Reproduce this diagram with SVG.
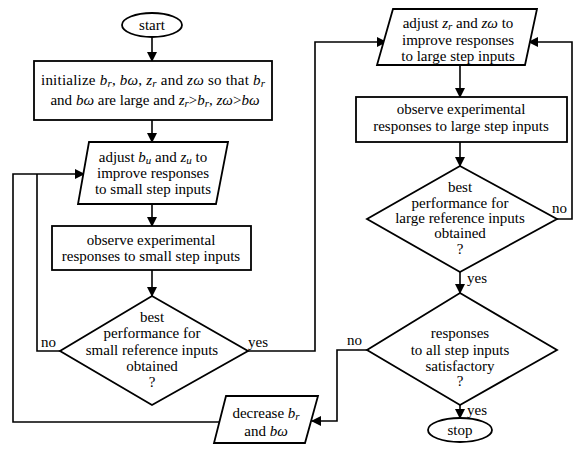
<svg xmlns="http://www.w3.org/2000/svg" width="573" height="456" viewBox="0 0 573 456" font-family="'Liberation Serif', 'Times New Roman', serif">
<defs>
<marker id="ah" markerWidth="10" markerHeight="10" refX="9" refY="5" orient="auto" markerUnits="userSpaceOnUse">
<path d="M0,0 L10,5 L0,10 Z" fill="#000"/>
</marker>
<style>
.s{fill:#fff;stroke:#000;stroke-width:1.8}
.c{fill:none;stroke:#000;stroke-width:1.6}
.a{marker-end:url(#ah)}
.t{font-family:'Liberation Serif','Times New Roman',serif;font-size:15px;fill:#000}
.m{text-anchor:middle}
.i{font-style:italic}
.sb{font-style:italic;font-size:11px}
</style>
</defs>
<rect width="573" height="456" fill="#fff"/>
<g id="connectors">
<path class="c a" d="M152,37 V61"/>
<path class="c a" d="M152,120 V142"/>
<path class="c a" d="M152,204 V226"/>
<path class="c a" d="M152,270 V296"/>
<path class="c" d="M60,351 H37 V174"/>
<path class="c a" d="M219,422 H13 V174 H84"/>
<path class="c a" d="M248,351 H315 V42 H386"/>
<path class="c a" d="M557,219 H572 V42 H529"/>
<path class="c a" d="M460,64 V97"/>
<path class="c a" d="M460,142 V166"/>
<path class="c a" d="M460,272 V293"/>
<path class="c a" d="M367,350 H337 V421 H312"/>
<path class="c a" d="M460,405 V418"/>
<text class="t" x="41" y="347">no</text>
<text class="t" x="248" y="347">yes</text>
<text class="t" x="552" y="213">no</text>
<text class="t" x="467" y="283">yes</text>
<text class="t" x="347" y="345">no</text>
<text class="t" x="467" y="415">yes</text>
</g>
<g id="start">
<ellipse class="s" cx="152" cy="25" rx="30" ry="12"/>
<text class="t m" x="152" y="30">start</text>
</g>
<g id="init">
<rect class="s" x="34" y="61" width="238" height="59"/>
<text class="t m" x="153" y="85" textLength="224" lengthAdjust="spacing">initialize <tspan class="i">b</tspan><tspan class="sb" dy="2">r</tspan><tspan dy="-2">, </tspan><tspan class="i">b</tspan><tspan class="i">ω</tspan>, <tspan class="i">z</tspan><tspan class="sb" dy="2">r</tspan><tspan dy="-2"> and </tspan><tspan class="i">zω</tspan> so that <tspan class="i">b</tspan><tspan class="sb" dy="2">r</tspan></text>
<text class="t m" x="155" y="105">and <tspan class="i">bω</tspan> are large and <tspan class="i">z</tspan><tspan class="sb" dy="2">r</tspan><tspan dy="-2">&gt;</tspan><tspan class="i">b</tspan><tspan class="sb" dy="2">r</tspan><tspan dy="-2">, </tspan><tspan class="i">zω</tspan>&gt;<tspan class="i">bω</tspan></text>
</g>
<g id="adjust-small">
<polygon class="s" points="89,142 228,142 216,204 78,204"/>
<text class="t m" x="153" y="162">adjust <tspan class="i">b</tspan><tspan class="sb" dy="2">u</tspan><tspan dy="-2"> and </tspan><tspan class="i">z</tspan><tspan class="sb" dy="2">u</tspan><tspan dy="-2"> to</tspan></text>
<text class="t m" x="153" y="178">improve responses</text>
<text class="t m" x="153" y="194">to small step inputs</text>
</g>
<g id="observe-small">
<rect class="s" x="52" y="226" width="199" height="44"/>
<text class="t m" x="151" y="245">observe experimental</text>
<text class="t m" x="151" y="261">responses to small step inputs</text>
</g>
<g id="decision-small">
<polygon class="s" points="152,296 248,351 152,405 60,351"/>
<text class="t m" x="152" y="322">best</text>
<text class="t m" x="152" y="338">performance for</text>
<text class="t m" x="152" y="355">small reference inputs</text>
<text class="t m" x="152" y="371">obtained</text>
<text class="t m" x="152" y="387">?</text>
</g>
<g id="adjust-large">
<polygon class="s" points="393,9 537,9 525,65 377,65"/>
<text class="t m" x="458" y="28">adjust <tspan class="i">z</tspan><tspan class="sb" dy="2">r</tspan><tspan dy="-2"> and </tspan><tspan class="i">zω</tspan> to</text>
<text class="t m" x="458" y="45">improve responses</text>
<text class="t m" x="458" y="61">to large step inputs</text>
</g>
<g id="observe-large">
<rect class="s" x="356" y="97" width="211" height="45"/>
<text class="t m" x="461" y="114">observe experimental</text>
<text class="t m" x="461" y="131">responses to large step inputs</text>
</g>
<g id="decision-large">
<polygon class="s" points="460,166 557,219 460,272 367,219"/>
<text class="t m" x="460" y="192">best</text>
<text class="t m" x="460" y="208">performance for</text>
<text class="t m" x="460" y="223">large reference inputs</text>
<text class="t m" x="460" y="238">obtained</text>
<text class="t m" x="460" y="254">?</text>
</g>
<g id="decision-all">
<polygon class="s" points="460,293 557,350 460,405 367,350"/>
<text class="t m" x="460" y="338">responses</text>
<text class="t m" x="460" y="355">to all step inputs</text>
<text class="t m" x="460" y="371">satisfactory</text>
<text class="t m" x="460" y="386">?</text>
</g>
<g id="decrease">
<polygon class="s" points="226,396 318,396 305,443 214,443"/>
<text class="t m" x="266" y="418">decrease <tspan class="i">b</tspan><tspan class="sb" dy="2">r</tspan></text>
<text class="t m" x="266" y="436">and <tspan class="i">bω</tspan></text>
</g>
<g id="stop">
<ellipse class="s" cx="460" cy="430" rx="32" ry="12"/>
<text class="t m" x="460" y="435">stop</text>
</g>
</svg>
